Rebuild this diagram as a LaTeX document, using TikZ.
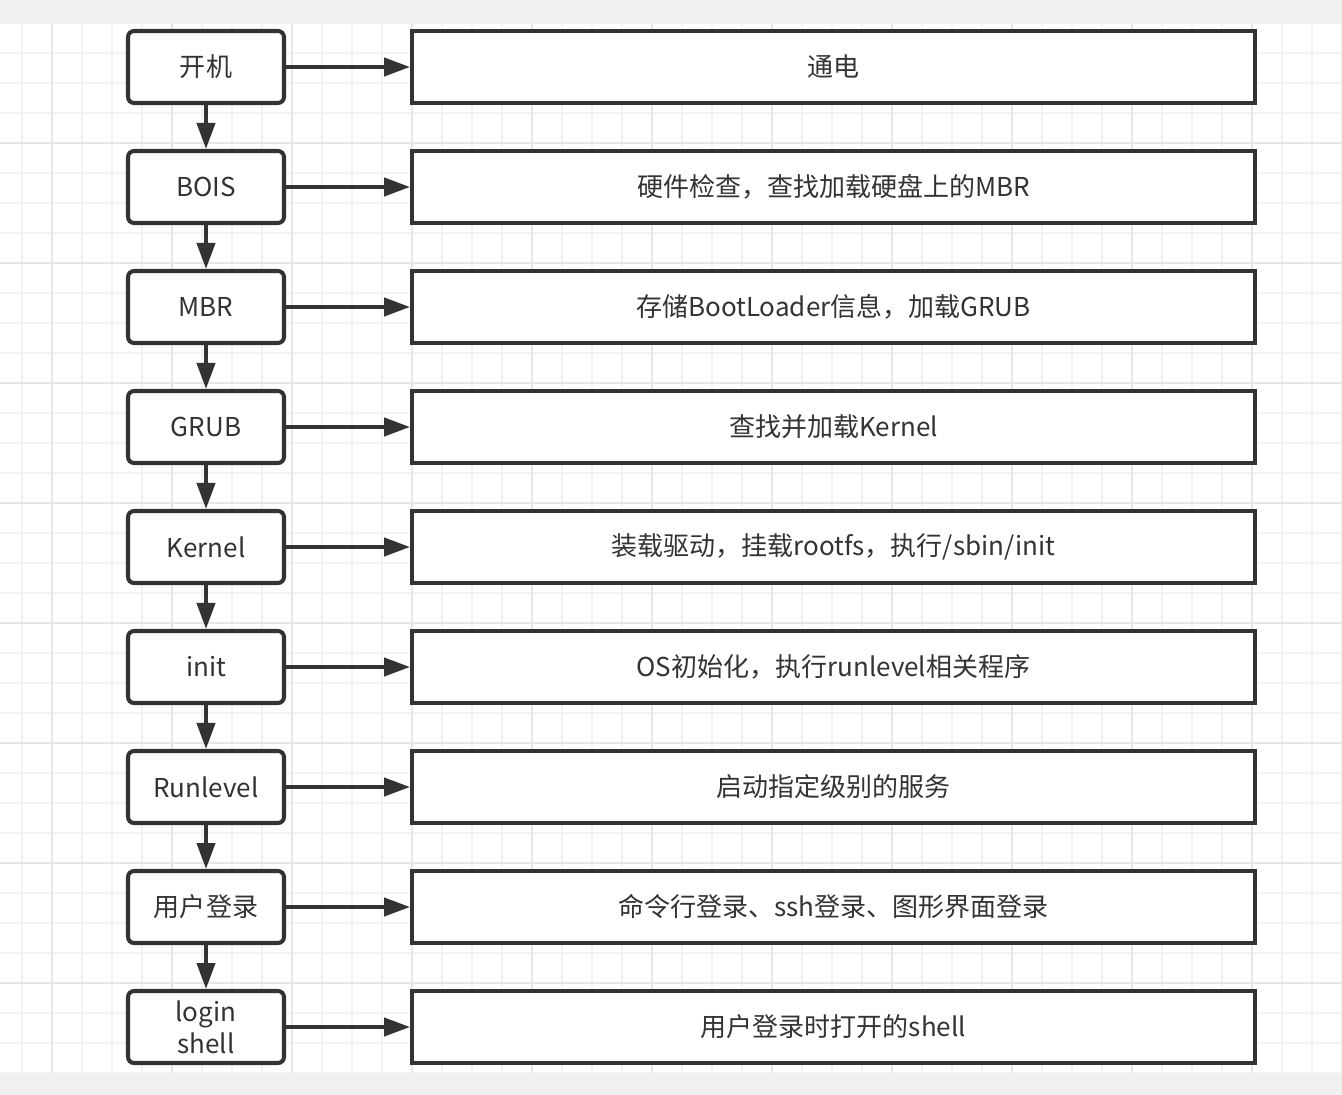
\documentclass[tikz,border=0pt]{standalone}
\usepackage{fontspec}
\newfontfamily\cjkfont{Noto Sans CJK SC}
\usetikzlibrary{arrows.meta,positioning}

\definecolor{linegray}{HTML}{333333}
\definecolor{bandgray}{HTML}{F0F0F0}
\definecolor{gridminor}{HTML}{F3F3F3}
\definecolor{gridmajor}{HTML}{E6E6E6}

\tikzset{
    stage/.style={draw=linegray, line width=2.3pt, rounded corners=0.12cm, fill=white,
        minimum width=3.12cm, minimum height=1.44cm, inner sep=0pt, align=center,
        text=linegray, font=\cjkfont\fontsize{14.8pt}{18.2pt}\selectfont},
    detail/.style={draw=linegray, line width=2.3pt, fill=white,
        minimum width=16.86cm, minimum height=1.44cm, inner sep=0pt,
        text=linegray, font=\cjkfont\fontsize{14.8pt}{18.2pt}\selectfont},
    flow/.style={draw=linegray, line width=2.3pt, -{Triangle[length=0.52cm, width=0.36cm]}}
}

\begin{document}
\begin{tikzpicture}[x=0.02cm, y=-0.02cm]
    \useasboundingbox (0, 0) rectangle (1342, 1095);

    % 背景与网格
    \fill[white] (0, 24) rectangle (1342, 1073);
    \fill[bandgray] (0, 0) rectangle (1342, 24);
    \fill[bandgray] (0, 1073) rectangle (1342, 1095);
    \foreach \gx in {22, 52, ..., 1342}
        \draw[gridminor, line width=0.03cm] (\gx, 24) -- (\gx, 1073);
    \foreach \gy in {53, 83, ..., 1073}
        \draw[gridminor, line width=0.03cm] (0, \gy) -- (1342, \gy);
    \foreach \gx in {52, 172, ..., 1252}
        \draw[gridmajor, line width=0.03cm] (\gx, 24) -- (\gx, 1073);
    \foreach \gy in {143, 263, ..., 983}
        \draw[gridmajor, line width=0.03cm] (0, \gy) -- (1342, \gy);

    % 启动阶段
    \node[stage] (kaiji)    at (206, 67)   {开机};
    \node[stage] (bios)     at (206, 187)  {BOIS};
    \node[stage] (mbr)      at (206, 307)  {MBR};
    \node[stage] (grub)     at (206, 427)  {GRUB};
    \node[stage] (kernel)   at (206, 547)  {Kernel};
    \node[stage] (init)     at (206, 667)  {init};
    \node[stage] (runlevel) at (206, 787)  {Runlevel};
    \node[stage] (denglu)   at (206, 907)  {用户登录};
    \node[stage] (loginsh)  at (206, 1027) {login\\shell};

    % 各阶段说明
    \node[detail] (tongdian)  at (833.5, 67)   {通电};
    \node[detail] (jiancha)   at (833.5, 187)  {硬件检查，查找加载硬盘上的MBR};
    \node[detail] (cunchu)    at (833.5, 307)  {存储BootLoader信息，加载GRUB};
    \node[detail] (jiazai)    at (833.5, 427)  {查找并加载Kernel};
    \node[detail] (zhuangzai) at (833.5, 547)  {装载驱动，挂载rootfs，执行/sbin/init};
    \node[detail] (chushihua) at (833.5, 667)  {OS初始化，执行runlevel相关程序};
    \node[detail] (fuwu)      at (833.5, 787)  {启动指定级别的服务};
    \node[detail] (fangshi)   at (833.5, 907)  {命令行登录、ssh登录、图形界面登录};
    \node[detail] (shell)     at (833.5, 1027) {用户登录时打开的shell};

    % 纵向流程
    \draw[flow] (kaiji) -- (bios);
    \draw[flow] (bios) -- (mbr);
    \draw[flow] (mbr) -- (grub);
    \draw[flow] (grub) -- (kernel);
    \draw[flow] (kernel) -- (init);
    \draw[flow] (init) -- (runlevel);
    \draw[flow] (runlevel) -- (denglu);
    \draw[flow] (denglu) -- (loginsh);

    % 横向说明箭头
    \draw[flow] (kaiji) -- (tongdian);
    \draw[flow] (bios) -- (jiancha);
    \draw[flow] (mbr) -- (cunchu);
    \draw[flow] (grub) -- (jiazai);
    \draw[flow] (kernel) -- (zhuangzai);
    \draw[flow] (init) -- (chushihua);
    \draw[flow] (runlevel) -- (fuwu);
    \draw[flow] (denglu) -- (fangshi);
    \draw[flow] (loginsh) -- (shell);
\end{tikzpicture}
\end{document}
